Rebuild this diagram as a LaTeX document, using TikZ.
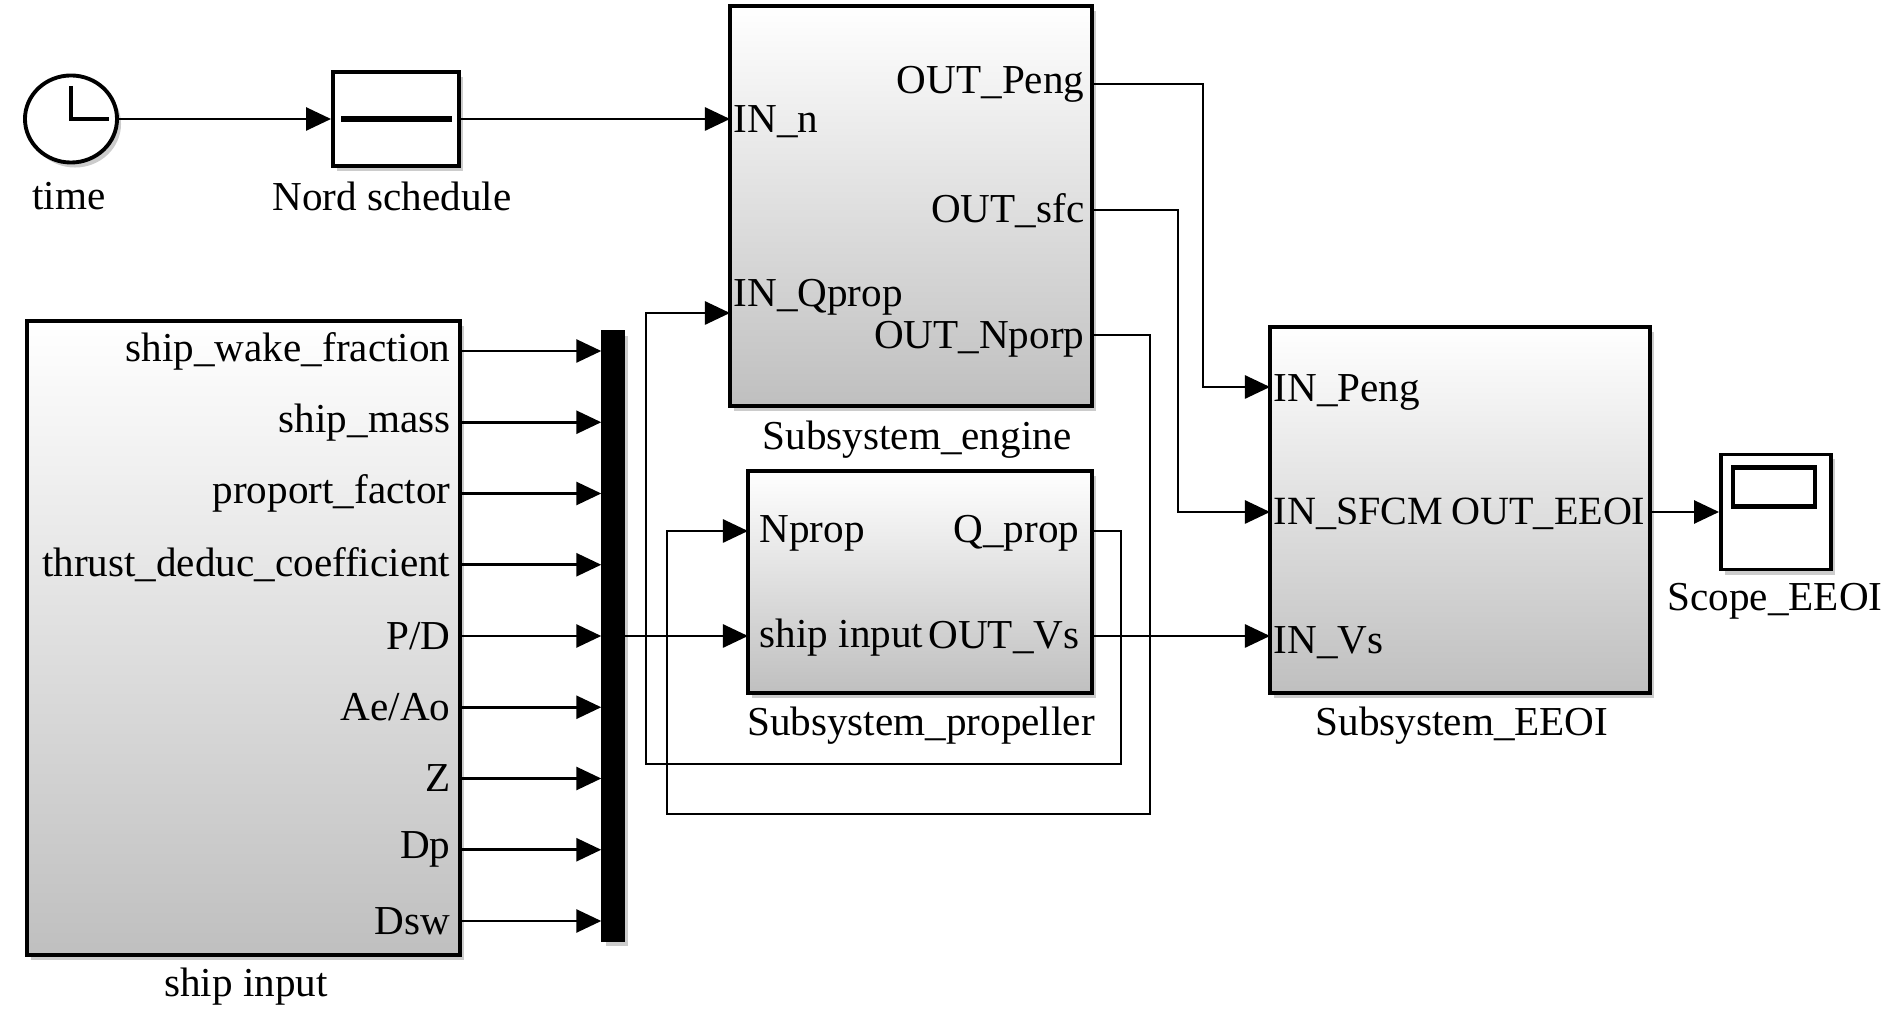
\documentclass[tikz,border=0pt]{standalone}
\usepackage{fontspec}
\setmainfont{Liberation Serif}
\usetikzlibrary{arrows.meta,shadows,shapes.geometric}

\tikzset{
    sig/.style={line width=0.75pt, -{Triangle[length=0.25cm, width=0.23cm]}},
    blk/.style={draw, line width=1.1pt, inner sep=0pt, top color=white, bottom color=black!25,
        drop shadow={shadow xshift=0.04cm, shadow yshift=-0.05cm, opacity=0.4}},
    wblk/.style={draw, line width=1.1pt, inner sep=0pt, fill=white,
        drop shadow={shadow xshift=0.04cm, shadow yshift=-0.05cm, opacity=0.4}},
    lbl/.style={inner sep=0pt, font=\fontsize{11.7}{14}\selectfont},
    slbl/.style={inner sep=0pt, font=\fontsize{11.4}{13}\selectfont},
}

\begin{document}
\begin{tikzpicture}[x=0.01cm, y=-0.01cm]
    \useasboundingbox (0,0) rectangle (1890,1013);

    % clock and schedule
    \node[wblk, ellipse, minimum width=0.92cm, minimum height=0.87cm] (clk) at (71,119) {};
    \draw[line width=1.3pt] (clk.center) ++(0,-33) -- (clk.center) -- ++(38,0);
    \node[lbl] (clkname) at (69,196) {time};
    \node[wblk, minimum width=1.26cm, minimum height=0.94cm] (nord) at (396,119) {};
    \draw[line width=1.5pt] ([xshift=0.1cm]nord.west) -- ([xshift=-0.09cm]nord.east);
    \node[lbl] (nordname) at (392,196) {Nord schedule};

    % engine
    \node[blk, minimum width=3.62cm, minimum height=4cm] (eng) at (911,206) {};
    \coordinate (engN) at (730,119);
    \coordinate (engQ) at (730,313);
    \coordinate (engPeng) at (1092,84);
    \coordinate (engSfc) at (1092,210);
    \coordinate (engNp) at (1092,335);
    \node[lbl, anchor=west] (engNlbl) at (733,122) {IN\_n};
    \node[lbl, anchor=west] (engQlbl) at (733,297) {IN\_Qprop};
    \node[lbl, anchor=east] (engPenglbl) at (1085,84) {OUT\_Peng};
    \node[lbl, anchor=east] (engSfclbl) at (1085,211) {OUT\_sfc};
    \node[lbl, anchor=east] (engNplbl) at (1085,339) {OUT\_Nporp};
    \node[lbl] (engname) at (917,440) {Subsystem\_engine};

    % propeller
    \node[blk, minimum width=3.44cm, minimum height=2.22cm] (prop) at (920,582) {};
    \coordinate (propN) at (748,531);
    \coordinate (propS) at (748,636);
    \coordinate (propQ) at (1092,531);
    \coordinate (propVs) at (1092,636);
    \node[lbl, anchor=west] (propNlbl) at (759,533) {Nprop};
    \node[lbl, anchor=west] (propSlbl) at (759,638) {ship input};
    \node[lbl, anchor=east] (propQlbl) at (1080,533) {Q\_prop};
    \node[lbl, anchor=east] (propVslbl) at (1080,638) {OUT\_Vs};
    \node[lbl] (propname) at (921,726) {Subsystem\_propeller};

    % EEOI
    \node[blk, minimum width=3.8cm, minimum height=3.66cm] (eeoi) at (1460,510) {};
    \coordinate (eeoiP) at (1270,387);
    \coordinate (eeoiS) at (1270,512);
    \coordinate (eeoiV) at (1270,636);
    \coordinate (eeoiOut) at (1650,512);
    \node[lbl, anchor=west] (eeoiPlbl) at (1273,392) {IN\_Peng};
    \node[slbl, anchor=west] (eeoiSlbl) at (1273,514) {IN\_SFCM};
    \node[lbl, anchor=west] (eeoiVlbl) at (1273,643) {IN\_Vs};
    \node[slbl, anchor=east] (eeoiOutlbl) at (1646,514) {OUT\_EEOI};
    \node[lbl] (eeoiname) at (1462,726) {Subsystem\_EEOI};

    % scope
    \node[wblk, minimum width=1.1cm, minimum height=1.15cm] (scope) at (1776,512) {};
    \draw[line width=1.2pt] ([shift={(14,15)}]scope.north west) rectangle ([shift={(96,54)}]scope.north west);
    \node[lbl] (scopename) at (1775,601) {Scope\_EEOI};

    % ship input and mux
    \node[blk, minimum width=4.33cm, minimum height=6.34cm] (ship) at (243.5,638) {};
    \node[lbl] (shipname) at (246,987) {ship input};
    \node[draw, fill=black, inner sep=0pt, minimum width=0.22cm, minimum height=6.1cm,
        drop shadow={shadow xshift=0.04cm, shadow yshift=-0.05cm, opacity=0.4}] (mux) at (613,636) {};
    \foreach \nm [count=\i from 0] in {ship\_wake\_fraction, ship\_mass, proport\_factor,
        thrust\_deduc\_coefficient, P/D, Ae/Ao, Z, Dp, Dsw}
    {
        \node[lbl, anchor=east] (p\i) at (451,351+71.25*\i) {\nm};
        \draw[sig] (ship.east |- p\i) -- (mux.west |- p\i);
    }

    % signals
    \draw[sig] (clk) -- (nord);
    \draw[sig] (nord) -- (engN);
    \draw[sig] (engPeng) -- ++(111,0) |- (eeoiP);
    \draw[sig] (engSfc) -- ++(86,0) |- (eeoiS);
    \draw[sig] (engNp) -- ++(58,0) -- ++(0,479) -- ++(-483,0) |- (propN);
    \draw[sig] (propQ) -- ++(29,0) -- ++(0,233) -- ++(-475,0) |- (engQ);
    \draw[sig] (propVs) -- (eeoiV);
    \draw[sig] (mux) -- (propS);
    \draw[sig] (eeoiOut) -- (scope);
\end{tikzpicture}
\end{document}
